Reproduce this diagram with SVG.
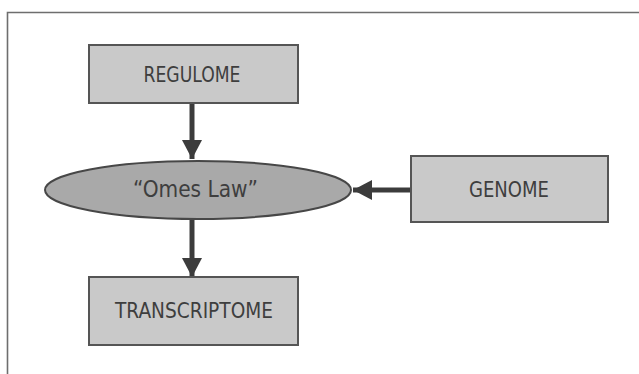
<svg xmlns="http://www.w3.org/2000/svg" width="639" height="374" viewBox="0 0 639 374">
<defs>
<style>
.box{fill:#c9c9c9;stroke:#555555;stroke-width:2}
.ell{fill:#a9a9a9;stroke:#474747;stroke-width:2}
.lbl{font-family:"DejaVu Sans Condensed","DejaVu Sans",sans-serif;font-size:21px;fill:#3e3e3e;text-anchor:middle}
.conn{stroke:#3c3c3c;stroke-width:5;fill:none}
</style>
<marker id="ah" markerUnits="userSpaceOnUse" markerWidth="20" markerHeight="20" refX="19" refY="10" orient="auto">
<path d="M0,0 L19,10 L0,20 Z" fill="#3c3c3c"/>
</marker>
</defs>
<rect width="639" height="374" fill="#ffffff"/>
<path d="M7.5,374 L7.5,12.5 L639,12.5" fill="none" stroke="#6e6e6e" stroke-width="1.6"/>
<g id="connectors">
<line class="conn" x1="192" y1="103" x2="192" y2="159" marker-end="url(#ah)"/>
<line class="conn" x1="192" y1="220" x2="192" y2="277" marker-end="url(#ah)"/>
<line class="conn" x1="411" y1="190" x2="353" y2="190" marker-end="url(#ah)"/>
</g>
<g id="regulome">
<rect class="box" x="89" y="45" width="209" height="58"/>
<text class="lbl" x="192" y="82" textLength="97" lengthAdjust="spacingAndGlyphs">REGULOME</text>
</g>
<g id="omes-law">
<ellipse class="ell" cx="198" cy="190" rx="153" ry="29"/>
<text class="lbl" x="195.5" y="197" style="font-size:23px" textLength="125" lengthAdjust="spacingAndGlyphs">“Omes Law”</text>
</g>
<g id="genome">
<rect class="box" x="411" y="156" width="197" height="66"/>
<text class="lbl" x="509" y="197" textLength="80" lengthAdjust="spacingAndGlyphs">GENOME</text>
</g>
<g id="transcriptome">
<rect class="box" x="89" y="277" width="209" height="68"/>
<text class="lbl" x="194" y="318" textLength="158" lengthAdjust="spacingAndGlyphs">TRANSCRIPTOME</text>
</g>
</svg>
